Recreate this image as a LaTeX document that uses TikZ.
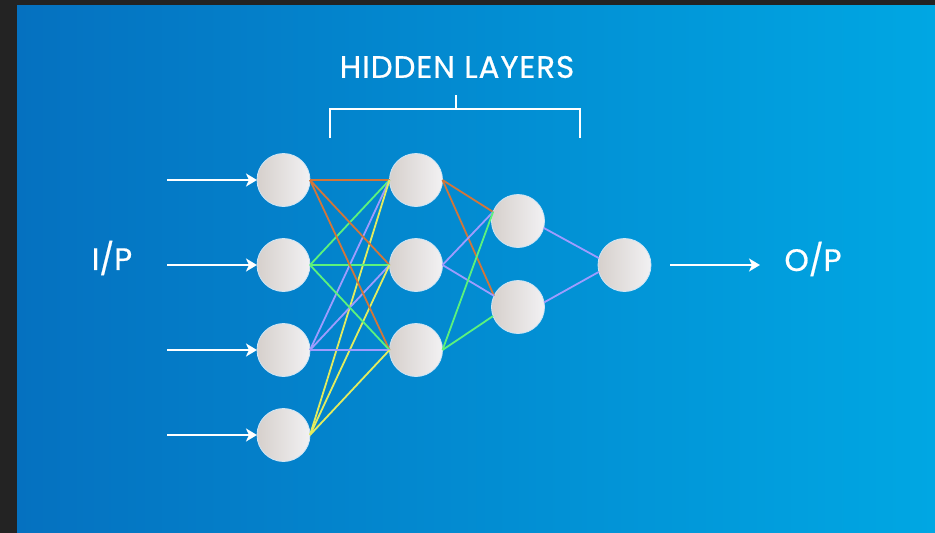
\documentclass[tikz,border=0pt]{standalone}
\usepackage{fontspec}
\setmainfont{Poppins}[FakeBold=0.6]
\usetikzlibrary{positioning,arrows.meta}
\definecolor{frame}{HTML}{232323}
\definecolor{bgleft}{HTML}{0571C0}
\definecolor{bgright}{HTML}{00A7E3}
\definecolor{nodeleft}{HTML}{D6D0CC}
\definecolor{noderight}{HTML}{F2F1F3}
\definecolor{nodeedge}{HTML}{CFE5F5}
\definecolor{wireorange}{HTML}{D2763A}
\definecolor{wiregreen}{HTML}{5CF27C}
\definecolor{wirepurple}{HTML}{9E9CFF}
\definecolor{wireyellow}{HTML}{E2EC5E}

\begin{document}
\begin{tikzpicture}[x=1pt, y=-1pt,
  neuron/.style={circle, minimum size=53pt, inner sep=0pt, outer sep=0pt, draw=nodeedge, line width=0.8pt, left color=nodeleft, right color=noderight},
  tag/.style={text=white, inner sep=0pt, font=\fontsize{31}{36}\selectfont},
  inarrow/.style={-{Stealth[length=11pt,width=13pt,inset=3pt]}, white, line width=2pt},
  wire/.style={line width=1.8pt}
]
% background
\fill[frame] (0,0) rectangle (935,533);
\shade[left color=bgleft, right color=bgright] (17,5) rectangle (935,533);

% input layer
\node[neuron] (a1) at (283.5,180) {};
\node[neuron, below=32pt of a1] (a2) {};
\node[neuron, below=32pt of a2] (a3) {};
\node[neuron, below=32pt of a3] (a4) {};

% hidden layers
\node[neuron] (b1) at (416,180) {};
\node[neuron, below=32pt of b1] (b2) {};
\node[neuron, below=32pt of b2] (b3) {};
\node[neuron] (c1) at (518,221) {};
\node[neuron, below=33pt of c1] (c2) {};

% output layer
\node[neuron] (d) at (624.5,265) {};

% labels
\node[tag] (ip) at (112,258) {I/P};
\node[tag] (op) at (813,259) {O/P};
\node[tag] (hidden) at (457,67) {\addfontfeature{LetterSpace=3}HIDDEN LAYERS};

% bracket
\draw[white, line width=1.3pt] (330,138) -- (330,109) -- (580,109) -- (580,138);
\draw[white, line width=1.3pt] (456,109) -- (456,95);

% arrows in and out
\foreach \i in {1,...,4} {
  \coordinate[left=90pt of a\i.west] (in\i);
  \draw[inarrow] (in\i) -- (a\i.west);
}
\coordinate[right=19pt of d.east] (out0);
\coordinate[right=90pt of out0] (out1);
\draw[inarrow] (out0) -- (out1);

% first to second layer
\foreach \j in {1,2,3} {
  \draw[wire, wireorange] (a1.east) -- (b\j.west);
  \draw[wire, wiregreen] (a2.east) -- (b\j.west);
  \draw[wire, wirepurple] (a3.east) -- (b\j.west);
  \draw[wire, wireyellow] (a4.east) -- (b\j.west);
}

% second to third layer
\draw[wire, wireorange] (b1.east) -- (c1.160);
\draw[wire, wireorange] (b1.east) -- (c2.155);
\draw[wire, wirepurple] (b2.east) -- (c1.160);
\draw[wire, wirepurple] (b2.east) -- (c2.155);
\draw[wire, wiregreen] (b3.east) -- (c1.160);
\draw[wire, wiregreen] (b3.east) -- (c2.200);

% third layer to output
\draw[wire, wirepurple] (c1.-15) -- (d.165);
\draw[wire, wirepurple] (c2.10) -- (d.195);
\end{tikzpicture}
\end{document}
